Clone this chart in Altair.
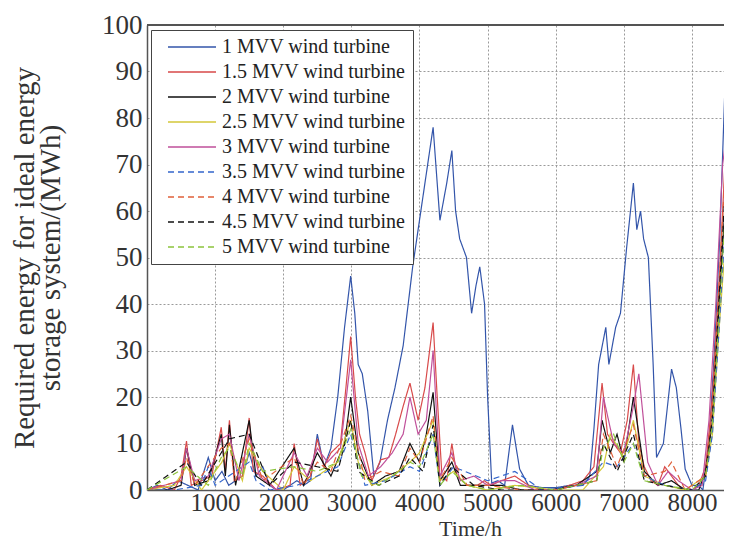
import altair as alt
import pandas as pd

NAMES = ["1 MVV wind turbine", "1.5 MVV wind turbine", "2 MVV wind turbine",
         "2.5 MVV wind turbine", "3 MVV wind turbine", "3.5 MVV wind turbine",
         "4 MVV wind turbine", "4.5 MVV wind turbine", "5 MVV wind turbine"]
COLORS = ["#3355aa", "#d84a4a", "#111111", "#d4c83a", "#c0509a",
          "#3366cc", "#e0603a", "#111111", "#8cc43c"]
DASHES = [[1, 0]] * 5 + [[6, 4]] * 4

X_TICKS = [1000, 2000, 3000, 4000, 5000, 6000, 7000, 8000]
Y_TICKS = [0, 10, 20, 30, 40, 50, 60, 70, 80, 90, 100]

H1 = [0,150,300,450,600,750,900,1000,1100,1200,1300,1400,1500,1600,1700,1800,1900,2000,2100,2200,2300,2400,2500,2600,2700,2800,2900,2990,3050,3100,3160,3240,3330,3420,3530,3640,3760,3900,4000,4100,4200,4300,4400,4475,4530,4590,4690,4765,4830,4885,4955,5000,5060,5150,5250,5365,5470,5600,5800,6000,6200,6400,6500,6560,6630,6735,6780,6880,6950,7040,7140,7190,7245,7290,7360,7430,7480,7580,7700,7770,7840,7900,8000,8100,8160,8250,8330,8410,8480,8520]
V1 = [0,1,0,2,1,0,7,2,4,1,2,3,8,3,5,1,0,0,1,2,1,2,12,5,9,20,35,46,38,27,25,17,3,6,15,22,31,48,58,68,78,58,66,73,60,54,50,38,44,48,40,20,1.5,2,1,14,4.5,1,0.5,0.5,1,1,3,13,27,35,27,35,38,52,66,56,60,54,50,27,7,10,26,22,13,4.5,1,1,0,10,30,55,85,80]

H2 = [0,200,400,500,580,650,800,950,1090,1150,1210,1280,1400,1500,1560,1700,1900,2100,2160,2250,2400,2500,2600,2700,2840,2920,2990,3060,3120,3200,3300,3430,3550,3650,3760,3860,3980,4080,4200,4260,4330,4400,4475,4550,4700,4850,4950,5050,5200,5400,5600,5800,6000,6200,6400,6560,6680,6760,6850,6950,7050,7140,7220,7300,7400,7500,7600,7700,7800,7900,8000,8100,8200,8300,8400,8500,8520]
V2 = [0,1,0,3,10.5,1,2,3,13.5,4,15,2,3,15.5,4,3,0,1,10,1,3,11,5,8,10,22,33,20,12,8,2,6.5,7,12,18,23,15,22,36,20,3,2,10,3,1,1,2,1,2,3,1,0,0,1,2,5,23,12,10,8,15,27,10,5,2,1,5,3,1,0,0,1,5,20,45,75,72]

H3 = [0,300,500,580,700,900,1090,1150,1210,1300,1500,1600,1800,2160,2300,2500,2700,2900,2990,3100,3300,3500,3700,3860,4000,4100,4200,4300,4475,4600,4900,5200,5500,5900,6300,6600,6680,6800,6900,7000,7140,7300,7500,7700,7900,8100,8200,8300,8400,8500,8520]
V3 = [0,0,1,9,1,2,12,3,14,1,15,3,1,9,1,8,3,10,20,8,1,3,4,10,6,12,21,2,6,1,1,1,0,0,1,4,15,8,12,6,20,4,1,2,0,0,4,15,40,65,62]

H4 = [0,400,580,800,1000,1100,1210,1400,1500,1700,2000,2160,2400,2600,2800,2990,3100,3300,3600,3860,4000,4200,4300,4500,4700,5000,5400,6000,6400,6700,6800,7000,7140,7300,7600,7900,8200,8300,8400,8500,8520]
V4 = [0,1,5,0,4,6,10,2,9,4,0,5,2,4,6,15,6,1,3,6,8,15,2,4,1,0,1,0,0,5,12,7,15,3,1,0,3,12,35,55,50]

H5 = [0,250,500,580,700,900,1090,1210,1350,1500,1650,1900,2160,2350,2500,2650,2840,2990,3100,3250,3430,3600,3760,3860,3980,4100,4200,4300,4475,4600,4800,5000,5200,5400,5700,6000,6300,6600,6700,6850,7000,7140,7220,7350,7500,7650,7800,8000,8150,8250,8350,8450,8520]
V5 = [0,1,2,9,2,3,11,12,2,12,3,0,8,3,9,6,9,28,10,3,5,8,12,20,12,15,30,3,8,2,3,1,2,2,0,0,1,3,20,10,8,18,25,6,1,4,2,0,1,15,40,70,78]

H6 = [0,400,800,900,1000,1200,1500,1600,1800,2200,2500,2800,2990,3200,3500,3860,4000,4200,4300,4500,5000,5400,5800,6400,6700,6900,7140,7300,7600,8000,8200,8300,8400,8500,8520]
V6 = [0,0,1,5,1,3,6,2,0,1,3,5,12,1,2,5,4,12,1,5,2,4,0,1,6,5,10,3,1,0,2,12,35,60,58]

H7 = [0,500,580,700,1090,1210,1300,1500,1700,2160,2300,2500,2700,2990,3200,3430,3700,3860,4000,4200,4300,4475,4700,5000,5500,6000,6600,6700,6900,7140,7300,7600,7700,7900,8200,8300,8400,8500,8520]
V7 = [0,2,7,1,9,10,2,11,2,7,1,6,4,16,2,4,3,9,6,16,2,7,1,1,0,0,2,12,5,14,3,4,6,0,3,18,45,72,70]

H8 = [0,580,800,1090,1210,1500,1800,2160,2500,2800,2990,3100,3400,3700,3860,4050,4200,4300,4475,4800,5200,6000,6600,6700,6900,7140,7300,7600,8000,8200,8300,8400,8500,8520]
V8 = [0,6,1,8,11,12,1,6,5,4,15,4,1,3,7,4,14,1,5,1,0,0,2,10,4,12,2,1,0,3,16,42,68,66]

H9 = [0,580,900,1090,1210,1400,1500,1700,2160,2500,2800,2990,3150,3400,3700,3860,4000,4200,4300,4475,4700,5000,5500,6000,6600,6700,6850,7000,7140,7300,7600,8000,8200,8300,8400,8500,8520]
V9 = [0,5,1,7,9,3,10,4,5,4,6,13,3,1,4,6,5,12,1,4,1,0,1,0,2,9,12,6,10,2,1,0,3,14,38,62,60]

HS = [H1, H2, H3, H4, H5, H6, H7, H8, H9]
VS = [V1, V2, V3, V4, V5, V6, V7, V8, V9]

rows = []
for i, (name, H, V) in enumerate(zip(NAMES, HS, VS)):
    for h, v in zip(H, V):
        rows.append({"series": name, "hour": h, "energy": v, "idx": i})
df = pd.DataFrame(rows)

FONT = "Liberation Serif"
W, H = 577, 465

legend = alt.Legend(
    title=None, orient="none", legendX=4, legendY=5,
    symbolType="M0,0H8", symbolSize=144, symbolStrokeWidth=1.3,
    labelFont=FONT, labelFontSize=20, labelColor="#222", labelOffset=44,
    labelLimit=400, rowPadding=5, padding=7,
    strokeColor="#444", fillColor="white",
)

lines = alt.Chart(df).mark_line(strokeWidth=1.2, clip=True).encode(
    x=alt.X("hour:Q", scale=alt.Scale(domain=[0, 8470], nice=False, zero=False),
            axis=alt.Axis(values=X_TICKS, title="Time/h", format="d",
                          labelFontSize=25, titleFontSize=22, titleFontWeight="normal",
                          labelPadding=0, titleBaseline="bottom", titleY=50, titleX=323)),
    y=alt.Y("energy:Q", scale=alt.Scale(domain=[0, 100], nice=False),
            axis=alt.Axis(values=Y_TICKS,
                          title=["Required energy for ideal energy", "storage system/(MWh)"],
                          labelFontSize=27, titleFontSize=29, titleFontWeight="normal",
                          titleLineHeight=26, labelPadding=5, titlePadding=36)),
    color=alt.Color("series:N", sort=NAMES,
                    scale=alt.Scale(domain=NAMES, range=COLORS), legend=legend),
    strokeDash=alt.StrokeDash("series:N", sort=NAMES,
                              scale=alt.Scale(domain=NAMES, range=DASHES), legend=legend),
    order=alt.Order("hour:Q"),
)

top = alt.Chart(df).mark_rule(color="#555", strokeWidth=1.5).encode(
    x=alt.value(0), x2=alt.value(W), y=alt.value(0)
)

chart = alt.layer(lines, top).properties(
    width=W, height=H,
    autosize=alt.AutoSizeParams(type="none"),
    padding={"left": 139, "top": 17, "right": 0, "bottom": 51},
).configure_view(strokeWidth=0).configure_axis(
    labelFont=FONT, titleFont=FONT,
    labelColor="#333", titleColor="#333",
    domainColor="#555", domainWidth=1.5, ticks=False,
    gridColor="#9a9a9a", gridDash=[2, 2], gridWidth=1,
)

chart.save("out.html", embed_options={"renderer": "svg", "actions": False})
